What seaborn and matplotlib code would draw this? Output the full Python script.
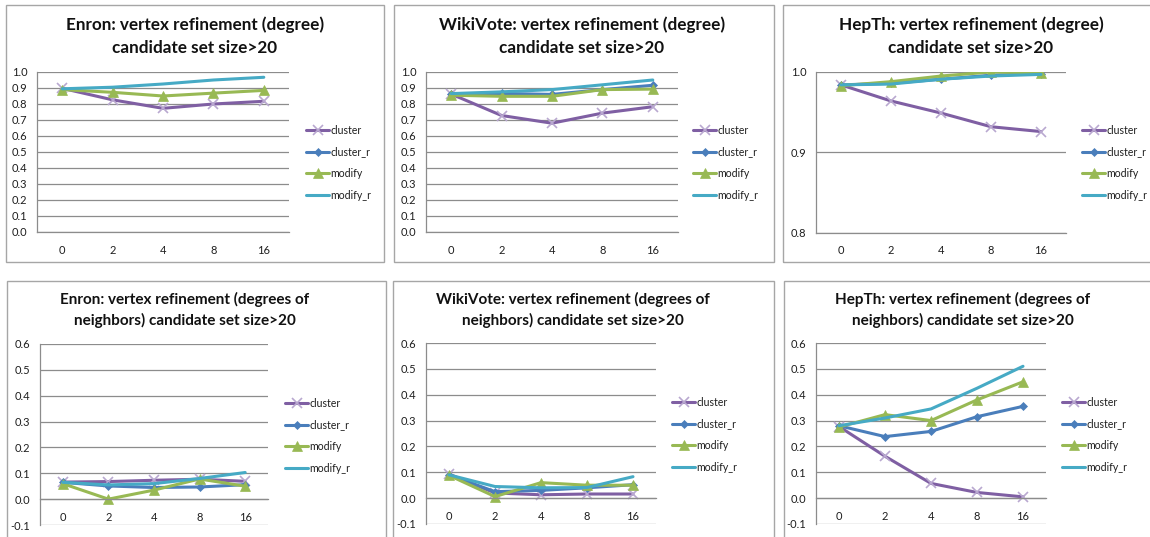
import numpy as np
import pandas as pd
import matplotlib
matplotlib.use("Agg")
import matplotlib.pyplot as plt
import seaborn as sns
from matplotlib.lines import Line2D
from matplotlib.patches import Rectangle

# ---------------- data ----------------
categories = ["0", "2", "4", "8", "16"]
series_names = ["cluster", "cluster_r", "modify", "modify_r"]

enron_deg_cluster = [0.898, 0.826, 0.773, 0.800, 0.817]
enron_deg_cluster_r = [np.nan, np.nan, np.nan, np.nan, np.nan]
enron_deg_modify = [0.890, 0.873, 0.850, 0.868, 0.885]
enron_deg_modify_r = [0.895, 0.905, 0.925, 0.950, 0.967]

wiki_deg_cluster = [0.862, 0.728, 0.680, 0.743, 0.783]
wiki_deg_cluster_r = [0.860, 0.866, 0.860, 0.890, 0.917]
wiki_deg_modify = [0.855, 0.848, 0.848, 0.890, 0.893]
wiki_deg_modify_r = [0.865, 0.876, 0.890, 0.920, 0.950]

hep_deg_cluster = [0.984, 0.964, 0.949, 0.932, 0.926]
hep_deg_cluster_r = [0.984, 0.986, 0.991, 0.996, 0.998]
hep_deg_modify = [0.983, 0.988, 0.995, 1.000, 0.999]
hep_deg_modify_r = [0.984, 0.985, 0.991, 0.995, 0.997]

enron_nb_cluster = [0.066, 0.068, 0.073, 0.077, 0.069]
enron_nb_cluster_r = [0.065, 0.051, 0.045, 0.047, 0.056]
enron_nb_modify = [0.060, 0.000, 0.035, 0.078, 0.050]
enron_nb_modify_r = [0.065, 0.055, 0.060, 0.080, 0.103]

wiki_nb_cluster = [0.093, 0.020, 0.013, 0.016, 0.016]
wiki_nb_cluster_r = [0.090, 0.025, 0.030, 0.040, 0.052]
wiki_nb_modify = [0.088, 0.006, 0.060, 0.050, 0.050]
wiki_nb_modify_r = [0.090, 0.045, 0.040, 0.041, 0.083]

hep_nb_cluster = [0.277, 0.162, 0.057, 0.022, 0.005]
hep_nb_cluster_r = [0.280, 0.238, 0.258, 0.315, 0.355]
hep_nb_modify = [0.275, 0.323, 0.300, 0.380, 0.450]
hep_nb_modify_r = [0.280, 0.310, 0.345, 0.425, 0.510]

titles = [
    "Enron: vertex refinement (degree)\ncandidate set size>20",
    "WikiVote: vertex refinement (degree)\ncandidate set size>20",
    "HepTh: vertex refinement (degree)\ncandidate set size>20",
    "Enron: vertex refinement (degrees of\nneighbors) candidate set size>20",
    "WikiVote: vertex refinement (degrees of\nneighbors) candidate set size>20",
    "HepTh: vertex refinement (degrees of\nneighbors) candidate set size>20",
]

panel_data = [
    [enron_deg_cluster, enron_deg_cluster_r, enron_deg_modify, enron_deg_modify_r],
    [wiki_deg_cluster, wiki_deg_cluster_r, wiki_deg_modify, wiki_deg_modify_r],
    [hep_deg_cluster, hep_deg_cluster_r, hep_deg_modify, hep_deg_modify_r],
    [enron_nb_cluster, enron_nb_cluster_r, enron_nb_modify, enron_nb_modify_r],
    [wiki_nb_cluster, wiki_nb_cluster_r, wiki_nb_modify, wiki_nb_modify_r],
    [hep_nb_cluster, hep_nb_cluster_r, hep_nb_modify, hep_nb_modify_r],
]

# ---------------- style ----------------
sns.set_theme(style="white")
plt.rcParams["font.family"] = ["Lato", "DejaVu Sans"]

colors = {"cluster": "#7F5FA3", "cluster_r": "#4A7EBB", "modify": "#98B954", "modify_r": "#46AAC5"}
markers = {"cluster": "x", "cluster_r": "D", "modify": "^", "modify_r": None}
msizes = {"cluster": 7, "cluster_r": 4.5, "modify": 7, "modify_r": 0}
mecolors = {"cluster": "#B9A8D0", "cluster_r": "#4A7EBB", "modify": "#98B954", "modify_r": "#46AAC5"}

W, H = 1150, 537
fig = plt.figure(figsize=(W / 100, H / 100), dpi=100)
fig.patch.set_facecolor("white")

def fx(px):
    return px / W

def fy(py):
    return 1 - py / H

# panel borders (px): x0, y0, x1, y1
borders = [
    (6, 5, 384, 262), (394, 5, 774, 262), (783, 5, 1160, 262),
    (7, 281, 386, 560), (393, 281, 774, 560), (784, 281, 1160, 560),
]
# plot areas (px): left, top, right, bottom
areas = [
    (37, 72, 289, 232), (426, 72, 678, 232), (816, 72, 1066, 233),
    (40, 344, 268, 525), (426, 343, 656, 524), (816, 343, 1046, 524),
]
legend_pos = [(306, 125), (693, 125), (1082, 125), (285, 398), (672, 397), (1062, 397)]
title_cx = [195, 582, 971, 185, 573, 963]
title_cy = [36, 36, 36, 310, 310, 310]
title_fs = [12.3, 12.3, 12.3, 11.0, 11.0, 11.0]

ylims = [(0, 1.0), (0, 1.0), (0.8, 1.0), (-0.1, 0.6), (-0.1, 0.6), (-0.1, 0.6)]
yticks = [
    np.round(np.arange(0, 1.01, 0.1), 1),
    np.round(np.arange(0, 1.01, 0.1), 1),
    [0.8, 0.9, 1.0],
    np.round(np.arange(-0.1, 0.61, 0.1), 1),
    np.round(np.arange(-0.1, 0.61, 0.1), 1),
    np.round(np.arange(-0.1, 0.61, 0.1), 1),
]

grid_color = "#8C8C8C"
tick_fs = 8
legend_fs = 7.6
text_color = "#1E1E1E"

for i in range(6):
    bx0, by0, bx1, by1 = borders[i]
    fig.patches.append(Rectangle((fx(bx0), fy(by1)), fx(bx1 - bx0), (by1 - by0) / H,
                                 transform=fig.transFigure, fill=False,
                                 edgecolor="#A6A6A6", linewidth=1.0, zorder=0))
    l, t, r, b = areas[i]
    ax = fig.add_axes([fx(l), fy(b), fx(r - l), (b - t) / H])
    ax.set_facecolor("none")

    for name, vals in zip(series_names, panel_data[i]):
        df = pd.DataFrame({"k": categories, "v": vals}).dropna()
        if len(df) == 0:
            continue
        kw = dict(color=colors[name], linewidth=2.2, ax=ax, legend=False)
        if markers[name] is not None:
            kw.update(marker=markers[name], markersize=msizes[name],
                      markeredgecolor=mecolors[name], markerfacecolor=colors[name],
                      markeredgewidth=1.2 if name == "cluster" else 0.5)
        sns.lineplot(data=df, x="k", y="v", **kw)

    for s in ["top", "right"]:
        ax.spines[s].set_visible(False)
    ax.spines["left"].set_color(grid_color)
    ax.spines["left"].set_linewidth(0.9)
    ax.spines["bottom"].set_color(grid_color)
    ax.spines["bottom"].set_linewidth(0.9)
    if ylims[i][0] < 0:
        ax.spines["bottom"].set_position(("data", 0))

    ax.set_xlim(-0.5, 4.5)
    ax.set_ylim(*ylims[i])
    ax.set_yticks(yticks[i])
    ax.set_yticklabels([f"{v:.1f}" for v in yticks[i]], fontsize=tick_fs, color=text_color)
    ax.set_xticks(range(5))
    ax.set_xticklabels(categories, fontsize=tick_fs, color=text_color)
    ax.set_xticks(np.arange(-0.5, 4.6, 1.0), minor=True)
    ax.tick_params(axis="x", which="major", length=0, pad=9)
    ax.tick_params(axis="x", which="minor", length=4, width=0.8, color=grid_color, direction="out")
    ax.tick_params(axis="y", which="major", length=4, width=0.8, color=grid_color, direction="out", pad=3)
    ax.set_xlabel("")
    ax.set_ylabel("")
    ax.grid(False)
    for v in yticks[i]:
        ax.axhline(v, color=grid_color, linewidth=0.9, zorder=0.5)

    handles = [Line2D([], [], color=colors[n], linewidth=2.2,
                      marker=markers[n] if markers[n] else None,
                      markersize=msizes[n] if markers[n] else 0,
                      markeredgecolor=mecolors[n], markerfacecolor=colors[n],
                      markeredgewidth=1.2 if n == "cluster" else 0.5)
               for n in series_names]
    lx, ly = legend_pos[i]
    fig.legend(handles, series_names, loc="upper left",
               bbox_to_anchor=(fx(lx), fy(ly)), frameon=False, fontsize=legend_fs,
               handlelength=2.2, handletextpad=0.1, labelspacing=1.0,
               borderpad=0, borderaxespad=0, labelcolor=text_color)

    fig.text(fx(title_cx[i]), fy(title_cy[i]), titles[i], ha="center", va="center",
             fontsize=title_fs[i], fontweight="bold", linespacing=1.5, color="#111111")

fig.savefig("out.png", dpi=100, facecolor="white")
